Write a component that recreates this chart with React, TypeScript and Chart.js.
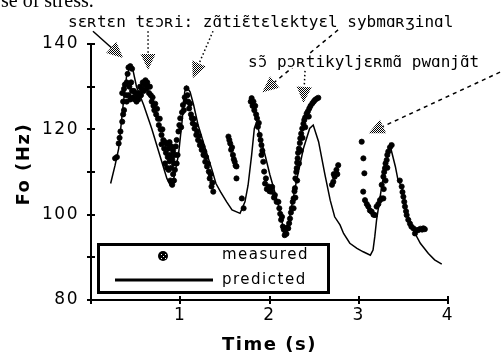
import React, { useEffect, useRef } from 'react';
import { Chart, registerables } from 'chart.js';

Chart.register(...registerables);

// ---- data (time in s, F0 in Hz) ----
const measured: [number, number][] = [
  [0.27, 113.2], [0.29, 113.5], [0.31, 116.7], [0.32, 118], [0.33, 119.5], [0.35, 121.8], [0.36, 123.5], [0.37, 124.5],
  [0.36, 126.5], [0.35, 128.5], [0.37, 129.5], [0.38, 130.5],
  [0.39, 128], [0.40, 131], [0.41, 133], [0.42, 134.5], [0.44, 134.8], [0.46, 134.2], [0.40, 126.5], [0.42, 128],
  [0.43, 130], [0.44, 127], [0.45, 131], [0.46, 129], [0.47, 127.5], [0.48, 129], [0.49, 127], [0.50, 128.5],
  [0.51, 126.5], [0.52, 128], [0.53, 127], [0.54, 128.5], [0.55, 130], [0.56, 128], [0.57, 129.5], [0.58, 131],
  [0.59, 129], [0.60, 130.5], [0.61, 131.5], [0.62, 129.5], [0.63, 131], [0.64, 130], [0.65, 128.5], [0.66, 130],
  [0.67, 128], [0.68, 126.5], [0.69, 127.5], [0.70, 125.5], [0.71, 124.5], [0.72, 126], [0.73, 123.5], [0.74, 124.8],
  [0.75, 122.5], [0.76, 121], [0.77, 122.5], [0.78, 120], [0.79, 118.7], [0.80, 120],
  [0.79, 116.5], [0.81, 117.5], [0.82, 115.5], [0.83, 117], [0.84, 114.5], [0.85, 116.5], [0.86, 113.5], [0.87, 115.5],
  [0.88, 117], [0.89, 114], [0.90, 116], [0.91, 113], [0.92, 115], [0.93, 112], [0.94, 114], [0.95, 116],
  [0.83, 112], [0.85, 111], [0.87, 110.5], [0.88, 112.5], [0.90, 111], [0.92, 109.5], [0.89, 108], [0.91, 107],
  [0.93, 108], [0.94, 110.5], [0.96, 112], [0.97, 114], [0.96, 117.5],
  [0.98, 119.5], [0.99, 121], [1.00, 122.6], [1.01, 120.5], [1.02, 124], [1.03, 125.7], [1.04, 124.5], [1.05, 127.5],
  [1.06, 126.5], [1.07, 129.6], [1.08, 128],
  [1.09, 126.5], [1.10, 124.9], [1.11, 126], [1.12, 123.5], [1.13, 122.6], [1.14, 121.4], [1.15, 122.5], [1.16, 120.2],
  [1.17, 121], [1.18, 118.7], [1.19, 119.5], [1.20, 117.5], [1.21, 118.5], [1.22, 116.3], [1.23, 117], [1.24, 115.2],
  [1.25, 116], [1.26, 114], [1.27, 114.8], [1.28, 112.4], [1.29, 113.5], [1.30, 111.3], [1.31, 112], [1.32, 110.1],
  [1.33, 108.5], [1.34, 109.5], [1.35, 106.6], [1.36, 107.5], [1.37, 105.4],
  [1.54, 118.3], [1.55, 117.5], [1.56, 116.7], [1.57, 115.2], [1.58, 115.8], [1.59, 114], [1.60, 113], [1.61, 112.4],
  [1.62, 111.5], [1.63, 111.3], [1.63, 108.5], [1.69, 103.8], [1.71, 101.5],
  [1.79, 126.5], [1.80, 127.3], [1.81, 125.5], [1.82, 126.5], [1.83, 124.5], [1.84, 125.5], [1.85, 123.5], [1.86, 122.6],
  [1.87, 120.6], [1.88, 121.5], [1.89, 118.7], [1.90, 117.5], [1.91, 116.3], [1.91, 114], [1.92, 115], [1.93, 112.4],
  [1.94, 110.1], [1.95, 107.3], [1.96, 108.5], [1.97, 106], [1.99, 106.6], [2.00, 105.5], [2.02, 105.4], [2.03, 106.5],
  [2.05, 104], [2.06, 104.6], [2.08, 103], [2.10, 103], [2.11, 101.5], [2.12, 100.2], [2.13, 98.8], [2.14, 99.5],
  [2.15, 97.2], [2.16, 96.5], [2.17, 95.2], [2.18, 96.5], [2.19, 95.5], [2.20, 97], [2.21, 96.8],
  [2.22, 98], [2.23, 99.1], [2.24, 100.5], [2.25, 101.5], [2.26, 103], [2.27, 103.8], [2.28, 105.5], [2.285, 106.2],
  [2.29, 108.5], [2.30, 110], [2.305, 110.9], [2.31, 112.2], [2.315, 113.2], [2.32, 114.5], [2.33, 115.5], [2.34, 116.8],
  [2.345, 117.9], [2.355, 119], [2.367, 120.2], [2.38, 121.3], [2.39, 122.2], [2.40, 122.8], [2.416, 123.7], [2.43, 124.2],
  [2.446, 124.9], [2.46, 125.5], [2.48, 126.1], [2.495, 126.5], [2.51, 126.9], [2.53, 127.2], [2.547, 127.4],
  [2.27, 101.5], [2.29, 104], [2.31, 108], [2.33, 112], [2.35, 115], [2.37, 118], [2.40, 120.5], [2.44, 123],
  [2.70, 107], [2.715, 107.7], [2.73, 108.9], [2.75, 110.5], [2.77, 111.6], [2.76, 109.5], [2.72, 109.5],
  [3.033, 117.1], [3.052, 113.2], [3.063, 109.7], [3.05, 105.4], [3.07, 103.4], [3.09, 102.5], [3.107, 101.9], [3.125, 101],
  [3.145, 100.7], [3.165, 100], [3.182, 99.9], [3.20, 101.9], [3.22, 102.5], [3.238, 103.4], [3.257, 103.8], [3.276, 103.8],
  [3.257, 107], [3.276, 108.9], [3.285, 110], [3.294, 110.9], [3.30, 112], [3.313, 112.8], [3.32, 114], [3.331, 114.8],
  [3.35, 115.8], [3.369, 116.3], [3.28, 106], [3.30, 108], [3.32, 111],
  [3.46, 108], [3.481, 106.6], [3.49, 105.3], [3.50, 104.2], [3.51, 103], [3.518, 101.9], [3.53, 100.8], [3.537, 99.9],
  [3.555, 98.8], [3.574, 97.9], [3.59, 97.2], [3.612, 96.8], [3.63, 95.6], [3.65, 96.4], [3.668, 96.4], [3.69, 96.7],
  [3.71, 96.5], [3.724, 96.8], [3.74, 96.6],
];

const predicted: [number, number][] = [
  [0.22, 107.3], [0.27, 111.6], [0.31, 115.5], [0.36, 125.7], [0.40, 132.7], [0.44, 134.7], [0.47, 133.9], [0.51, 130],
  [0.59, 125.7], [0.68, 120.2], [0.77, 114], [0.85, 108.5], [0.885, 107], [0.92, 107.7], [0.98, 114], [1.02, 121.8],
  [1.05, 128.8], [1.07, 130], [1.11, 128.8], [1.15, 125.7], [1.20, 121], [1.28, 115.5], [1.35, 110.9], [1.40, 107.3],
  [1.45, 105.4], [1.52, 103], [1.58, 101.1], [1.67, 100.3], [1.725, 103], [1.76, 106.9], [1.80, 114], [1.83, 120.2],
  [1.856, 121.8], [1.89, 118.7], [1.95, 114], [2.005, 109.3], [2.08, 103.8], [2.136, 99.1], [2.16, 95.5], [2.19, 96],
  [2.23, 99.9], [2.30, 107.7], [2.38, 115.5], [2.45, 120.2], [2.49, 121], [2.55, 117.1], [2.62, 109.5], [2.68, 103.4],
  [2.73, 99.5], [2.79, 97.6], [2.83, 95.6], [2.90, 93.3], [2.98, 92.1], [3.05, 91.3], [3.13, 90.5], [3.16, 91.7],
  [3.18, 94.9], [3.20, 98.8], [3.26, 107], [3.31, 112.5], [3.35, 116.3], [3.41, 111.3], [3.44, 108.1], [3.48, 106.6],
  [3.54, 100.3], [3.61, 96.4], [3.69, 93.3], [3.78, 90.9], [3.85, 89.4], [3.93, 88.4],
];

const seriesNames = ['measured', 'predicted'];
const xTickValues = [1, 2, 3, 4];
const yTickLabelValues = [80, 100, 120, 140];
const xTitle = 'Time (s)';
const yTitle = 'Fo (Hz)';
const headerFragment = 'se of stress.';
const noteLine1 = 'sɛʀtɛn tɛɔʀi: zɑ̃tiɛ̃tɛlɛktyɛl sybmɑʀʒinɑl';
const noteLine2 = 'sɔ̃ pɔʀtikyljɛʀmɑ̃ pwɑnjɑ̃t';

// arrows: start and tip in data coordinates (time, Hz)
const arrows: { from: [number, number]; to: [number, number]; dash: number[] }[] = [
  { from: [0.022, 143.0], to: [0.36, 136.7], dash: [] },
  { from: [0.639, 143.0], to: [0.64, 133.9], dash: [1.5, 2.5] },
  { from: [1.367, 143.0], to: [1.14, 132.0], dash: [1.5, 2.5] },
  { from: [2.768, 143.3], to: [1.92, 128.7], dash: [4, 4] },
  { from: [2.398, 133.7], to: [2.38, 126.2], dash: [1.5, 2.5] },
  { from: [4.583, 133.4], to: [3.11, 119.1], dash: [4, 4] },
];

function drawArrow(ctx: CanvasRenderingContext2D, x0: number, y0: number, x1: number, y1: number, dash: number[], fill: any) {
  const dx = x1 - x0, dy = y1 - y0;
  const len = Math.hypot(dx, dy);
  const ux = dx / len, uy = dy / len;
  const headLen = 16, headW = 7.5;
  const bx = x1 - ux * headLen, by = y1 - uy * headLen;
  ctx.save();
  ctx.strokeStyle = '#000';
  ctx.lineWidth = 1.5;
  ctx.setLineDash(dash);
  ctx.beginPath();
  ctx.moveTo(x0, y0);
  ctx.lineTo(bx, by);
  ctx.stroke();
  ctx.setLineDash([]);
  ctx.beginPath();
  ctx.moveTo(x1, y1);
  ctx.lineTo(bx - uy * headW, by + ux * headW);
  ctx.lineTo(bx + uy * headW, by - ux * headW);
  ctx.closePath();
  ctx.fillStyle = fill;
  ctx.fill();
  ctx.restore();
}

const decorPlugin = {
  id: 'decor',
  beforeDraw(chart: any) {
    chart.ctx.letterSpacing = '1.5px';
  },
  afterDraw(chart: any) {
    const ctx: CanvasRenderingContext2D = chart.ctx;
    ctx.letterSpacing = '0px';
    const xs = chart.scales.x, ys = chart.scales.y;
    ctx.save();

    // inner tick stubs (ticks cross the axis in the original)
    ctx.strokeStyle = '#000';
    ctx.lineWidth = 2;
    for (let v = 80; v <= 140; v += 10) {
      const py = Math.round(ys.getPixelForValue(v));
      ctx.beginPath();
      ctx.moveTo(xs.left, py);
      ctx.lineTo(xs.left + 4, py);
      ctx.stroke();
    }
    for (const v of xTickValues) {
      const px = Math.round(xs.getPixelForValue(v));
      ctx.beginPath();
      ctx.moveTo(px, ys.bottom);
      ctx.lineTo(px, ys.bottom - 4);
      ctx.stroke();
    }

    // dithered arrow heads
    const pc = document.createElement('canvas');
    pc.width = 2; pc.height = 2;
    const pctx = pc.getContext('2d')!;
    pctx.fillStyle = '#000';
    pctx.fillRect(0, 0, 1, 1);
    pctx.fillRect(1, 1, 1, 1);
    const pattern = ctx.createPattern(pc, 'repeat');
    for (const a of arrows) {
      drawArrow(ctx,
        xs.getPixelForValue(a.from[0]), ys.getPixelForValue(a.from[1]),
        xs.getPixelForValue(a.to[0]), ys.getPixelForValue(a.to[1]),
        a.dash, pattern);
    }

    // header fragment (cut-off line of the surrounding text)
    ctx.fillStyle = '#000';
    ctx.textBaseline = 'alphabetic';
    ctx.textAlign = 'left';
    ctx.font = '20px "Liberation Serif"';
    ctx.fillText(headerFragment, 1, 7);

    // annotation texts
    ctx.font = '16px "DejaVu Sans Mono"';
    ctx.fillText(noteLine1, 68, 27);
    const w2 = ctx.measureText(noteLine2).width;
    ctx.fillStyle = '#fff';
    ctx.fillRect(247, 54, w2 + 2, 14);
    ctx.fillStyle = '#000';
    ctx.fillText(noteLine2, 248, 67);

    // legend box inside the plot
    const lx0 = 97, ly0 = 243, lx1 = 330, ly1 = 294;
    ctx.fillStyle = '#fff';
    ctx.fillRect(lx0, ly0, lx1 - lx0, ly1 - ly0);
    ctx.strokeStyle = '#000';
    ctx.lineWidth = 3;
    ctx.strokeRect(lx0 + 1.5, ly0 + 1.5, lx1 - lx0 - 3, ly1 - ly0 - 3);
    // measured symbol
    ctx.beginPath();
    ctx.arc(163, 256, 5, 0, Math.PI * 2);
    ctx.fillStyle = '#000';
    ctx.fill();
    ctx.fillStyle = '#fff';
    ctx.fillRect(161, 254, 1, 1);
    ctx.fillRect(165, 254, 1, 1);
    ctx.fillRect(163, 256, 1, 1);
    ctx.fillRect(161, 258, 1, 1);
    ctx.fillRect(165, 258, 1, 1);
    // predicted line
    ctx.strokeStyle = '#000';
    ctx.lineWidth = 3;
    ctx.beginPath();
    ctx.moveTo(115, 280);
    ctx.lineTo(213, 280);
    ctx.stroke();
    ctx.fillStyle = '#000';
    ctx.font = '15px "DejaVu Sans"';
    ctx.letterSpacing = '1.5px';
    ctx.textBaseline = 'middle';
    ctx.fillText(seriesNames[0], 222, 255);
    ctx.fillText(seriesNames[1], 222, 280);
    ctx.letterSpacing = '0px';
    ctx.restore();
  },
};

export default function App() {
  const canvasRef = useRef<HTMLCanvasElement | null>(null);

  useEffect(() => {
    const canvas = canvasRef.current;
    if (!canvas) return;
    const chart = new Chart(canvas, {
      type: 'scatter',
      data: {
        datasets: [
          {
            label: seriesNames[0],
            data: measured.map(([x, y]) => ({ x, y })),
            pointStyle: 'circle',
            pointRadius: 2.6,
            pointBackgroundColor: '#000',
            pointBorderColor: '#000',
            pointBorderWidth: 0.8,
            showLine: false,
          },
          {
            label: seriesNames[1],
            data: predicted.map(([x, y]) => ({ x, y })),
            showLine: true,
            borderColor: '#000',
            borderWidth: 1.5,
            pointRadius: 0,
            tension: 0,
          },
        ],
      },
      options: {
        responsive: false,
        devicePixelRatio: 1,
        animation: false,
        events: [],
        layout: { padding: { left: 0, right: 55, top: 44, bottom: 0 } },
        plugins: { legend: { display: false }, tooltip: { enabled: false } },
        scales: {
          x: {
            type: 'linear',
            min: 0,
            max: 4,
            afterFit: (s: any) => { s.height = 58; },
            afterBuildTicks: (s: any) => { s.ticks = [0, ...xTickValues].map((v) => ({ value: v })); },
            ticks: {
              color: '#000',
              font: { family: 'DejaVu Sans', size: 17 },
              padding: 1,
              maxRotation: 0,
              callback: (v: any) => (xTickValues.includes(Number(v)) ? String(v) : ''),
            },
            grid: { drawOnChartArea: false, drawTicks: true, tickLength: 4, color: '#000', lineWidth: 2 },
            border: { color: '#000', width: 2 },
            title: {
              display: true,
              text: xTitle,
              color: '#000',
              font: { family: 'DejaVu Sans', size: 18, weight: 'bold' },
              padding: { top: 0, bottom: 2 },
            },
          },
          y: {
            type: 'linear',
            min: 80,
            max: 140,
            afterFit: (s: any) => { s.width = 91; },
            ticks: {
              stepSize: 10,
              color: '#000',
              font: { family: 'DejaVu Sans', size: 17 },
              padding: 8,
              callback: (v: any) => (yTickLabelValues.includes(Number(v)) ? String(v) : ''),
            },
            grid: { drawOnChartArea: false, drawTicks: true, tickLength: 4, color: '#000', lineWidth: 2 },
            border: { color: '#000', width: 2 },
            title: {
              display: true,
              text: '  ' + yTitle,
              color: '#000',
              font: { family: 'DejaVu Sans', size: 18, weight: 'bold' },
              padding: { top: 14, bottom: 0 },
            },
          },
        },
      },
      plugins: [decorPlugin],
    } as any);
    return () => chart.destroy();
  }, []);

  return (
    <div style={{ position: 'absolute', left: 0, top: 0, width: 503, height: 358, background: '#fff' }}>
      <canvas ref={canvasRef} width={503} height={358} style={{ display: 'block' }} />
    </div>
  );
}
